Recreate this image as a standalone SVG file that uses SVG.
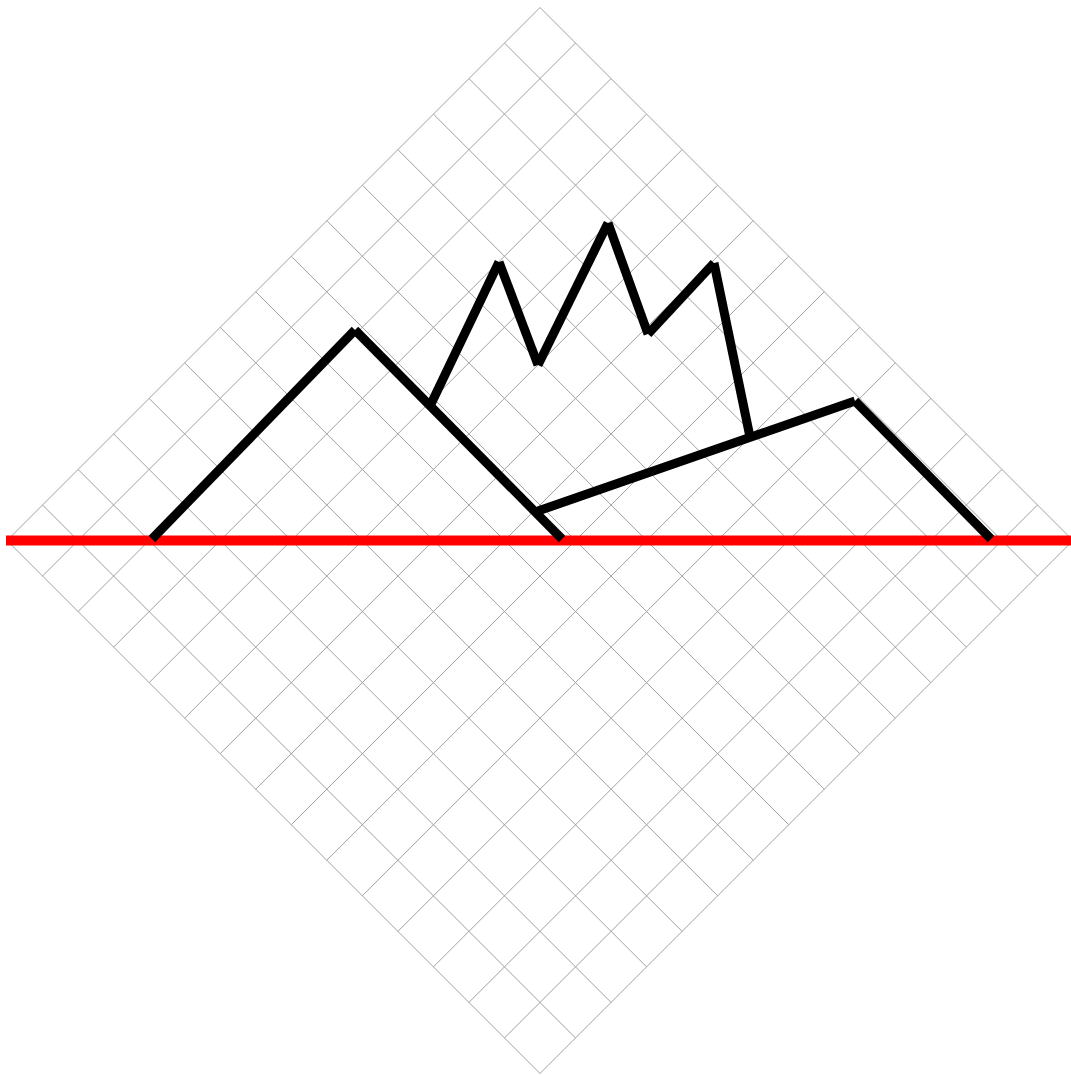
<svg xmlns="http://www.w3.org/2000/svg" width="1071" height="1075" viewBox="0 0 1071 1075">
  <style>
    .g { stroke: #a0a0a0; stroke-width: 1; fill: none; }
    .p { stroke: #000000; stroke-width: 9; stroke-linecap: butt; fill: none; }
    .r { stroke: #ff0000; stroke-width: 10; stroke-linecap: butt; fill: none; }
  </style>
  <rect x="0" y="0" width="1071" height="1075" fill="#ffffff"/>
  <g id="grid">
    <line class="g" x1="7" y1="540.5" x2="540" y2="1073.5"/>
    <line class="g" x1="42.53" y1="504.97" x2="575.53" y2="1037.97"/>
    <line class="g" x1="78.07" y1="469.43" x2="611.07" y2="1002.43"/>
    <line class="g" x1="113.6" y1="433.9" x2="646.6" y2="966.9"/>
    <line class="g" x1="149.13" y1="398.37" x2="682.13" y2="931.37"/>
    <line class="g" x1="184.67" y1="362.83" x2="717.67" y2="895.83"/>
    <line class="g" x1="220.2" y1="327.3" x2="753.2" y2="860.3"/>
    <line class="g" x1="255.73" y1="291.77" x2="788.73" y2="824.77"/>
    <line class="g" x1="291.27" y1="256.23" x2="824.27" y2="789.23"/>
    <line class="g" x1="326.8" y1="220.7" x2="859.8" y2="753.7"/>
    <line class="g" x1="362.33" y1="185.17" x2="895.33" y2="718.17"/>
    <line class="g" x1="397.87" y1="149.63" x2="930.87" y2="682.63"/>
    <line class="g" x1="433.4" y1="114.1" x2="966.4" y2="647.1"/>
    <line class="g" x1="468.93" y1="78.57" x2="1001.93" y2="611.57"/>
    <line class="g" x1="504.47" y1="43.03" x2="1037.47" y2="576.03"/>
    <line class="g" x1="540" y1="7.5" x2="1073" y2="540.5"/>
    <line class="g" x1="7" y1="540.5" x2="540" y2="7.5"/>
    <line class="g" x1="42.53" y1="576.03" x2="575.53" y2="43.03"/>
    <line class="g" x1="78.07" y1="611.57" x2="611.07" y2="78.57"/>
    <line class="g" x1="113.6" y1="647.1" x2="646.6" y2="114.1"/>
    <line class="g" x1="149.13" y1="682.63" x2="682.13" y2="149.63"/>
    <line class="g" x1="184.67" y1="718.17" x2="717.67" y2="185.17"/>
    <line class="g" x1="220.2" y1="753.7" x2="753.2" y2="220.7"/>
    <line class="g" x1="255.73" y1="789.23" x2="788.73" y2="256.23"/>
    <line class="g" x1="291.27" y1="824.77" x2="824.27" y2="291.77"/>
    <line class="g" x1="326.8" y1="860.3" x2="859.8" y2="327.3"/>
    <line class="g" x1="362.33" y1="895.83" x2="895.33" y2="362.83"/>
    <line class="g" x1="397.87" y1="931.37" x2="930.87" y2="398.37"/>
    <line class="g" x1="433.4" y1="966.9" x2="966.4" y2="433.9"/>
    <line class="g" x1="468.93" y1="1002.43" x2="1001.93" y2="469.43"/>
    <line class="g" x1="504.47" y1="1037.97" x2="1037.47" y2="504.97"/>
    <line class="g" x1="540" y1="1073.5" x2="1073" y2="540.5"/>
  </g>
  <g id="baseline">
    <line class="r" x1="6" y1="540.5" x2="1071" y2="540.5"/>
  </g>
  <g id="connectors">
    <line class="p" x1="152" y1="539" x2="355" y2="330"/>
    <line class="p" x1="355" y1="330" x2="562" y2="539"/>
    <line class="p" x1="431" y1="404" x2="499" y2="262"/>
    <line class="p" x1="499" y1="262" x2="538" y2="365"/>
    <line class="p" x1="538" y1="365" x2="608" y2="223"/>
    <line class="p" x1="608" y1="223" x2="648" y2="334"/>
    <line class="p" x1="648" y1="334" x2="714" y2="263"/>
    <line class="p" x1="714" y1="263" x2="750" y2="437"/>
    <line class="p" x1="538" y1="511" x2="855" y2="401"/>
    <line class="p" x1="855" y1="401" x2="991" y2="539"/>
  </g>
</svg>
